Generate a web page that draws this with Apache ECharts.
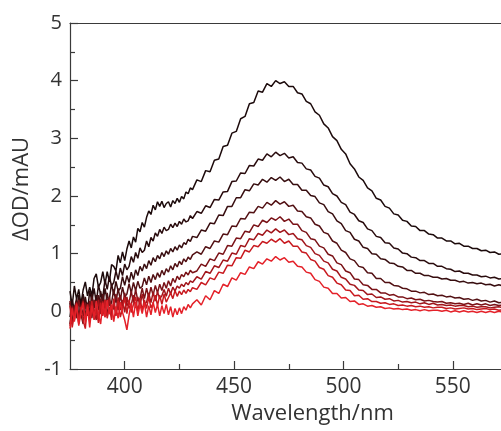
<!DOCTYPE html>
<html>
<head>
<meta charset="utf-8">
<script src="https://cdn.jsdelivr.net/npm/echarts@6/dist/echarts.min.js"></script>
<style>
html,body{margin:0;padding:0;background:#fff;}
#chart{width:501px;height:431px;}
</style>
</head>
<body>
<div id="chart"></div>
<script>
// wavelengths sampled every 1 nm in the noisy blue part, every 2 nm after
var wavelengthsFine = [375,376,377,378,379,380,381,382,383,384,385,386,387,388,389,390,391,392,393,394,395,396,397,398,399,400,401,402,403,404,405,406,407,408,409,410,411,412,413,414,415,416,417,418,419,420,421,422,423,424,425,426,427,428,429,430,431];
var wavelengthsCoarse = [433,435,437,439,441,443,445,447,449,451,453,455,457,459,461,463,465,467,469,471,473,475,477,479,481,483,485,487,489,491,493,495,497,499,501,503,505,507,509,511,513,515,517,519,521,523,525,527,529,531,533,535,537,539,541,543,545,547,549,551,553,555,557,559,561,563,565,567,569,571,573];

var trace1Fine = [0.35,0.10,0.44,0.21,0.38,0.12,0.37,0.51,0.27,0.42,0.27,0.57,0.65,0.42,0.50,0.69,0.47,0.69,0.51,0.81,0.78,0.70,0.97,0.84,1.03,0.88,1.08,1.22,1.10,1.29,1.20,1.44,1.38,1.54,1.46,1.63,1.74,1.68,1.84,1.76,1.90,1.82,1.91,1.80,1.87,1.90,1.81,1.92,1.87,1.96,1.89,1.99,1.95,2.07,2.04,2.14,2.11];
var trace1Coarse = [2.28,2.25,2.44,2.42,2.62,2.64,2.86,2.88,3.09,3.12,3.34,3.38,3.6,3.62,3.82,3.8,3.95,3.9,4.0,3.95,3.98,3.9,3.9,3.79,3.77,3.64,3.6,3.46,3.4,3.25,3.18,3.03,2.96,2.81,2.73,2.56,2.47,2.33,2.27,2.14,2.09,1.96,1.93,1.82,1.79,1.69,1.67,1.58,1.56,1.48,1.47,1.4,1.4,1.34,1.33,1.27,1.27,1.22,1.22,1.17,1.18,1.13,1.13,1.09,1.09,1.05,1.06,1.02,1.03,0.99,1.0];

var trace2Fine = [-0.10,0.20,0.02,-0.08,0.28,0.05,0.30,0.10,0.00,0.35,0.18,0.40,0.15,0.45,0.30,0.25,0.55,0.38,0.60,0.44,0.50,0.70,0.55,0.75,0.62,0.82,0.72,0.78,0.95,0.85,1.02,0.92,1.10,1.02,1.06,1.22,1.12,1.28,1.22,1.36,1.30,1.42,1.35,1.46,1.40,1.42,1.51,1.45,1.53,1.47,1.56,1.51,1.60,1.55,1.57,1.66,1.61];
var trace2Coarse = [1.73,1.7,1.83,1.8,1.94,1.93,2.07,2.08,2.25,2.26,2.4,2.39,2.53,2.52,2.64,2.62,2.73,2.68,2.76,2.7,2.74,2.66,2.68,2.58,2.57,2.47,2.45,2.34,2.31,2.19,2.16,2.04,2.0,1.89,1.85,1.72,1.68,1.57,1.54,1.43,1.4,1.3,1.28,1.19,1.18,1.1,1.08,1.01,1.0,0.94,0.93,0.88,0.88,0.83,0.83,0.78,0.78,0.74,0.73,0.69,0.7,0.66,0.66,0.63,0.63,0.6,0.61,0.58,0.59,0.56,0.57];

var trace3Fine = [0.15,-0.18,0.05,0.22,-0.10,0.12,-0.08,0.25,0.02,-0.05,0.30,0.05,0.28,0.02,0.35,0.12,0.40,0.18,0.22,0.48,0.28,0.52,0.35,0.40,0.60,0.45,0.62,0.50,0.68,0.55,0.72,0.62,0.78,0.70,0.82,0.74,0.88,0.80,0.93,0.86,0.97,0.91,1.02,0.95,1.05,0.99,1.09,1.03,1.12,1.06,1.15,1.10,1.19,1.16,1.25,1.21,1.30];
var trace3Coarse = [1.28,1.41,1.39,1.53,1.52,1.67,1.66,1.82,1.82,1.97,1.97,2.11,2.09,2.21,2.19,2.29,2.24,2.32,2.27,2.33,2.25,2.29,2.2,2.2,2.1,2.1,2.01,1.99,1.88,1.85,1.73,1.69,1.57,1.52,1.4,1.37,1.25,1.22,1.11,1.09,1.0,0.99,0.91,0.9,0.84,0.83,0.78,0.77,0.71,0.71,0.66,0.66,0.62,0.62,0.59,0.59,0.56,0.57,0.54,0.54,0.51,0.52,0.49,0.5,0.48,0.49,0.46,0.47,0.44,0.46,0.44];

var trace4Fine = [-0.22,0.10,-0.05,0.18,-0.15,0.08,0.22,-0.10,0.15,-0.02,0.25,-0.05,0.10,0.28,0.00,0.30,0.05,0.32,0.10,0.15,0.38,0.15,0.40,0.20,0.42,0.25,0.30,0.48,0.32,0.50,0.36,0.52,0.40,0.43,0.58,0.46,0.61,0.50,0.64,0.55,0.67,0.59,0.71,0.63,0.74,0.68,0.79,0.72,0.83,0.77,0.87,0.81,0.91,0.86,0.94,0.90,0.98];
var trace4Coarse = [1.03,0.99,1.12,1.09,1.22,1.2,1.34,1.33,1.48,1.47,1.61,1.6,1.72,1.71,1.82,1.79,1.89,1.84,1.92,1.86,1.9,1.82,1.84,1.74,1.73,1.64,1.62,1.51,1.48,1.37,1.34,1.22,1.18,1.06,1.02,0.91,0.88,0.78,0.76,0.67,0.66,0.57,0.57,0.5,0.5,0.45,0.44,0.4,0.39,0.35,0.35,0.32,0.33,0.29,0.3,0.27,0.28,0.25,0.26,0.23,0.24,0.21,0.22,0.19,0.21,0.18,0.19,0.16,0.18,0.15,0.16];

var trace5Fine = [0.18,-0.20,0.10,-0.12,0.20,-0.05,-0.22,0.15,-0.08,0.18,-0.12,0.20,0.02,-0.10,0.22,-0.05,0.20,-0.08,0.25,0.02,0.05,0.30,0.02,0.28,0.08,0.32,0.10,0.15,0.35,0.15,0.38,0.18,0.22,0.40,0.22,0.40,0.24,0.42,0.28,0.45,0.32,0.47,0.36,0.50,0.40,0.53,0.44,0.57,0.50,0.61,0.55,0.64,0.60,0.68,0.63,0.71,0.67];
var trace5Coarse = [0.7,0.82,0.78,0.91,0.88,1.01,0.99,1.14,1.13,1.27,1.26,1.39,1.37,1.5,1.47,1.58,1.54,1.62,1.58,1.64,1.56,1.6,1.51,1.51,1.4,1.37,1.26,1.24,1.13,1.1,0.99,0.96,0.84,0.81,0.7,0.67,0.56,0.55,0.46,0.45,0.38,0.38,0.32,0.32,0.28,0.29,0.25,0.25,0.22,0.23,0.2,0.21,0.18,0.19,0.17,0.16,0.17,0.14,0.15,0.13,0.14,0.12,0.14,0.11,0.13,0.11,0.13,0.1,0.12,0.1,0.11];

var trace6Fine = [-0.25,0.08,-0.15,0.12,-0.20,0.02,0.18,-0.12,0.10,-0.18,0.15,0.00,-0.15,0.20,-0.05,0.18,-0.10,0.12,0.22,-0.05,0.15,-0.08,0.24,0.02,0.20,-0.02,0.25,0.05,0.12,0.28,0.06,0.25,0.10,0.30,0.12,0.16,0.32,0.15,0.33,0.18,0.34,0.22,0.27,0.38,0.26,0.40,0.30,0.42,0.35,0.44,0.40,0.47,0.43,0.50,0.46,0.53,0.50];
var trace6Coarse = [0.6,0.56,0.69,0.66,0.79,0.76,0.89,0.87,1.01,0.99,1.14,1.12,1.26,1.24,1.35,1.32,1.41,1.36,1.43,1.37,1.41,1.33,1.35,1.26,1.24,1.14,1.11,1.0,0.97,0.87,0.84,0.73,0.7,0.59,0.56,0.47,0.45,0.37,0.36,0.29,0.3,0.24,0.25,0.21,0.22,0.18,0.19,0.16,0.17,0.15,0.16,0.13,0.15,0.12,0.14,0.11,0.12,0.1,0.11,0.09,0.1,0.1,0.08,0.09,0.07,0.08,0.08,0.06,0.07,0.08,0.06];

var trace7Fine = [0.10,-0.28,-0.05,0.15,-0.22,0.08,-0.15,-0.30,0.12,-0.10,0.18,-0.15,0.05,-0.20,0.15,-0.08,0.20,-0.12,0.08,-0.15,0.22,-0.05,0.18,-0.10,0.05,0.24,-0.04,0.20,-0.02,0.12,0.25,0.00,0.22,0.02,0.20,0.05,0.25,0.06,0.14,0.28,0.10,0.28,0.12,0.30,0.16,0.24,0.32,0.22,0.36,0.26,0.35,0.29,0.37,0.31,0.38,0.34,0.41];
var trace7Coarse = [0.38,0.5,0.46,0.58,0.55,0.68,0.66,0.8,0.79,0.93,0.92,1.06,1.03,1.14,1.12,1.21,1.18,1.25,1.2,1.26,1.18,1.22,1.13,1.13,1.03,1.01,0.9,0.87,0.76,0.73,0.62,0.59,0.49,0.46,0.37,0.36,0.27,0.28,0.21,0.22,0.17,0.17,0.14,0.15,0.12,0.13,0.1,0.11,0.09,0.1,0.08,0.09,0.07,0.08,0.06,0.07,0.07,0.05,0.06,0.04,0.05,0.06,0.04,0.05,0.03,0.04,0.05,0.03,0.04,0.02,0.03];

var trace8Fine = [-0.30,0.05,-0.18,0.12,-0.25,-0.02,0.15,-0.20,0.08,-0.28,0.10,-0.12,0.18,-0.05,-0.22,0.15,-0.10,0.20,-0.05,0.12,-0.18,0.08,-0.12,0.16,-0.02,-0.15,-0.32,-0.06,0.14,-0.10,0.16,-0.08,0.12,-0.04,0.15,-0.10,0.10,-0.06,0.16,-0.02,0.12,-0.08,0.10,-0.04,0.12,-0.06,0.08,-0.10,0.05,-0.06,0.06,-0.04,0.08,0.02,0.12,0.06,0.13];
var trace8Coarse = [0.2,0.11,0.27,0.2,0.36,0.31,0.47,0.43,0.58,0.54,0.67,0.64,0.77,0.74,0.86,0.82,0.91,0.87,0.95,0.89,0.93,0.85,0.87,0.78,0.77,0.68,0.66,0.55,0.52,0.42,0.4,0.31,0.31,0.23,0.24,0.17,0.18,0.12,0.13,0.09,0.1,0.07,0.08,0.05,0.06,0.04,0.05,0.03,0.04,0.02,0.03,0.01,0.03,0.01,0.02,0.02,0.0,0.02,-0.01,0.01,-0.01,0.01,-0.01,0.0,-0.02,0.0,-0.02,0.0,-0.02,0.0,-0.01];

var tracesFine = [trace1Fine, trace2Fine, trace3Fine, trace4Fine, trace5Fine, trace6Fine, trace7Fine, trace8Fine];
var tracesCoarse = [trace1Coarse, trace2Coarse, trace3Coarse, trace4Coarse, trace5Coarse, trace6Coarse, trace7Coarse, trace8Coarse];
var colors = ['#1c0a0b', '#290b0d', '#370d0f', '#521013', '#7a1217', '#a1151b', '#c8191f', '#e42129'];

var yTicks = [-1, 0, 1, 2, 3, 4, 5];
var xMajorTicks = [400, 450, 500, 550];
var xMinorTicks = [425, 475, 525];

var axisColor = '#3a3a3a';
var textColor = '#333333';
var font = 'Open Sans';

function pairs(ws, vs) {
  var out = [];
  for (var i = 0; i < ws.length && i < vs.length; i++) out.push([ws[i], vs[i]]);
  return out;
}

var series = tracesFine.map(function (t, k) {
  return {
    type: 'line',
    xAxisIndex: 0,
    data: pairs(wavelengthsFine, t).concat(pairs(wavelengthsCoarse, tracesCoarse[k])),
    showSymbol: false,
    symbol: 'none',
    clip: true,
    lineStyle: { color: colors[k], width: 1.5 },
    animation: false,
    z: 2 + k
  };
});

function tickAxis(values, len) {
  return {
    type: 'value',
    position: 'bottom',
    min: 375,
    max: 572,
    interval: 25,
    axisLine: { show: false, onZero: false },
    axisTick: { show: true, inside: true, length: len, customValues: values, lineStyle: { color: axisColor, width: 1.2 } },
    axisLabel: { show: false },
    splitLine: { show: false }
  };
}

var chart = echarts.init(document.getElementById('chart'), null, { renderer: 'canvas' });
chart.setOption({
  backgroundColor: '#ffffff',
  animation: false,
  grid: { left: 70, top: 23, bottom: 62, right: 0 },
  xAxis: [{
    type: 'value',
    min: 375,
    max: 572,
    interval: 25,
    name: 'Wavelength/nm',
    nameLocation: 'middle',
    nameGap: 34,
    nameTextStyle: { fontFamily: font, fontSize: 22, color: textColor, padding: [0, 0, 0, 54] },
    axisLine: { show: true, onZero: false, lineStyle: { color: axisColor, width: 1.2 } },
    axisTick: { show: false },
    axisLabel: { fontFamily: font, fontSize: 21, color: textColor, margin: 8, customValues: xMajorTicks },
    splitLine: { show: false }
  },
  tickAxis(xMinorTicks, 5),
  tickAxis(xMajorTicks, 8),
  {
    type: 'value',
    position: 'top',
    min: 375,
    max: 572,
    axisLine: { show: true, onZero: false, lineStyle: { color: axisColor, width: 1.2 } },
    axisTick: { show: false },
    axisLabel: { show: false },
    splitLine: { show: false }
  }],
  yAxis: {
    type: 'value',
    min: -1,
    max: 5,
    interval: 1,
    name: 'ΔOD/mAU',
    nameLocation: 'middle',
    nameGap: 31,
    nameTextStyle: { fontFamily: font, fontSize: 22, color: textColor, padding: [0, 0, 0, 14] },
    axisLine: { show: true, onZero: false, lineStyle: { color: axisColor, width: 1.2 } },
    axisTick: { show: true, inside: true, length: 8, lineStyle: { color: axisColor, width: 1.2 } },
    minorTick: { show: true, splitNumber: 2, length: 5, lineStyle: { color: axisColor, width: 1.2 } },
    axisLabel: { fontFamily: font, fontSize: 20, color: textColor, margin: 8, customValues: yTicks },
    splitLine: { show: false }
  },
  series: series
});
</script>
</body>
</html>
